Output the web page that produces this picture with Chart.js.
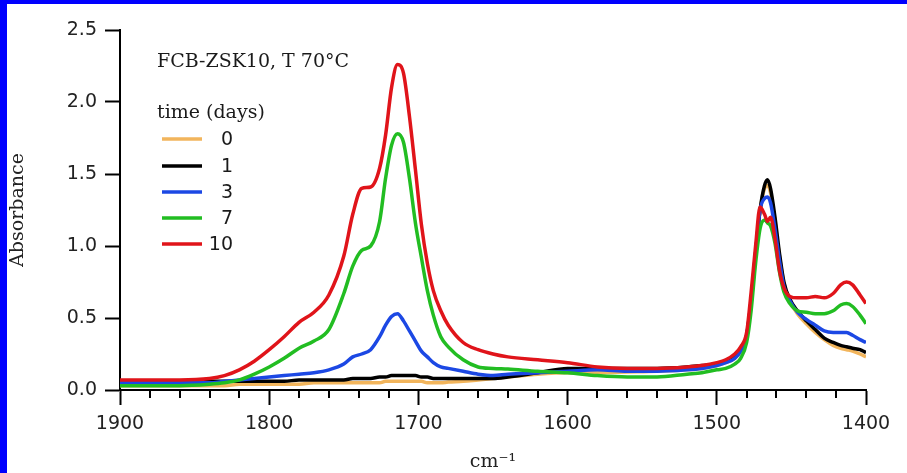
<!DOCTYPE html>
<html>
<head>
<meta charset="utf-8">
<title>FCB-ZSK10, T 70°C</title>
<script src="https://cdn.jsdelivr.net/npm/chart.js@4.4.1/dist/chart.umd.min.js"></script>
<style>
  html, body { margin: 0; padding: 0; background: #fff; overflow: hidden; }
  .frame {
    position: relative;
    width: 900px;
    height: 469px;
    border-left: 7px solid #0000fe;
    border-top: 4px solid #0000fe;
    background: #fff;
  }
</style>
</head>
<body>
<div class="frame"><canvas id="spectrum"></canvas></div>
<script>
// wavenumber grid (cm-1), shared by every spectrum
const wavenumbers = [
  1900, 1880, 1860, 1840, 1830, 1820, 1810, 1800, 1790, 1780,
  1770, 1760, 1750, 1744, 1738, 1732, 1726, 1722, 1718, 1714,
  1710, 1706, 1702, 1698, 1694, 1690, 1685, 1680, 1670, 1660,
  1650, 1640, 1620, 1600, 1580, 1560, 1540, 1520, 1510, 1500,
  1494, 1488, 1484, 1480, 1477, 1474, 1471, 1468, 1466, 1464,
  1461, 1458, 1455, 1451, 1446, 1440, 1434, 1428, 1422, 1417,
  1413, 1409, 1404, 1400
];

// absorbance after 0, 1, 3, 7 and 10 days
const day0 = [
  0.03, 0.03, 0.03, 0.03, 0.03, 0.04, 0.04, 0.04, 0.04, 0.04,
  0.05, 0.05, 0.05, 0.05, 0.05, 0.05, 0.05, 0.06, 0.06, 0.06,
  0.06, 0.06, 0.06, 0.06, 0.05, 0.05, 0.05, 0.055, 0.06, 0.07,
  0.08, 0.09, 0.11, 0.12, 0.12, 0.125, 0.13, 0.14, 0.15, 0.17,
  0.19, 0.22, 0.27, 0.37, 0.60, 0.93, 1.24, 1.40, 1.42, 1.37,
  1.17, 0.93, 0.74, 0.62, 0.53, 0.46, 0.40, 0.35, 0.31, 0.29,
  0.28, 0.27, 0.25, 0.23
];
const day1 = [
  0.06, 0.06, 0.06, 0.06, 0.06, 0.06, 0.06, 0.06, 0.06, 0.07,
  0.07, 0.07, 0.07, 0.08, 0.08, 0.08, 0.09, 0.09, 0.10, 0.10,
  0.10, 0.10, 0.10, 0.09, 0.09, 0.08, 0.08, 0.08, 0.08, 0.08,
  0.08, 0.09, 0.12, 0.15, 0.15, 0.15, 0.15, 0.16, 0.17, 0.18,
  0.20, 0.23, 0.28, 0.38, 0.62, 0.95, 1.25, 1.42, 1.46, 1.40,
  1.20, 0.95, 0.75, 0.63, 0.55, 0.48, 0.42, 0.36, 0.33, 0.31,
  0.30, 0.29, 0.28, 0.26
];
const day3 = [
  0.05, 0.05, 0.05, 0.05, 0.06, 0.07, 0.08, 0.09, 0.10, 0.11,
  0.12, 0.14, 0.18, 0.23, 0.25, 0.28, 0.37, 0.45, 0.51, 0.53,
  0.48, 0.41, 0.34, 0.27, 0.23, 0.19, 0.16, 0.15, 0.13, 0.11,
  0.10, 0.11, 0.12, 0.13, 0.14, 0.13, 0.13, 0.14, 0.15, 0.17,
  0.19, 0.22, 0.27, 0.38, 0.62, 0.95, 1.25, 1.33, 1.34, 1.30,
  1.12, 0.90, 0.72, 0.62, 0.54, 0.49, 0.45, 0.41, 0.40, 0.40,
  0.40, 0.38, 0.35, 0.33
];
const day7 = [
  0.03, 0.03, 0.03, 0.04, 0.05, 0.07, 0.11, 0.16, 0.22, 0.29,
  0.34, 0.42, 0.67, 0.86, 0.97, 1.00, 1.17, 1.47, 1.70, 1.78,
  1.72, 1.47, 1.16, 0.92, 0.69, 0.52, 0.37, 0.30, 0.21, 0.16,
  0.15, 0.145, 0.13, 0.12, 0.10, 0.09, 0.09, 0.11, 0.12, 0.14,
  0.15, 0.18, 0.22, 0.33, 0.55, 0.88, 1.12, 1.18, 1.16, 1.14,
  1.02, 0.82, 0.68, 0.60, 0.55, 0.54, 0.53, 0.53, 0.55, 0.59,
  0.60, 0.58, 0.52, 0.46
];
const day10 = [
  0.07, 0.07, 0.07, 0.08, 0.10, 0.14, 0.20, 0.28, 0.37, 0.47,
  0.54, 0.66, 0.93, 1.22, 1.40, 1.41, 1.54, 1.77, 2.10, 2.26,
  2.20, 1.90, 1.53, 1.15, 0.88, 0.69, 0.55, 0.45, 0.33, 0.28,
  0.25, 0.23, 0.21, 0.19, 0.16, 0.15, 0.15, 0.16, 0.17, 0.19,
  0.21, 0.25, 0.30, 0.40, 0.68, 1.00, 1.27, 1.22, 1.17, 1.20,
  1.05, 0.83, 0.71, 0.65, 0.64, 0.64, 0.65, 0.64, 0.67, 0.73,
  0.75, 0.73, 0.66, 0.60
];

const dayLabels = ['0', '1', '3', '7', '10'];
const series = [day0, day1, day3, day7, day10];
const lineColors = ['#f2b55c', '#000000', '#1c48e4', '#22bd22', '#e0141a'];

const xMajorTicks = [1900, 1800, 1700, 1600, 1500, 1400];
const xMinorStep = 20;
const yTickStep = 0.5;

const tickFont = { family: 'DejaVu Sans', size: 19 };
const textFont = { family: 'DejaVu Serif', size: 19 };

// small ticks between the labelled wavenumbers + legend and sample note
const decorations = {
  id: 'decorations',
  afterDraw(chart) {
    const ctx = chart.ctx;
    const x = chart.scales.x;
    const bottom = chart.chartArea.bottom;

    ctx.save();
    ctx.strokeStyle = '#000';
    ctx.lineWidth = 2;
    for (let v = x.min + xMinorStep; v < x.max; v += xMinorStep) {
      if (xMajorTicks.includes(v)) continue;
      const px = Math.round(x.getPixelForValue(v));
      ctx.beginPath();
      ctx.moveTo(px, bottom);
      ctx.lineTo(px, bottom + 8);
      ctx.stroke();
    }

    ctx.fillStyle = '#1a1a1a';
    ctx.textBaseline = 'middle';
    ctx.font = `${textFont.size}px "${textFont.family}"`;
    ctx.textAlign = 'left';
    ctx.fillText('FCB-ZSK10, T 70°C', 150, 58);
    ctx.fillText('time (days)', 150, 109);

    const rowY = [135, 162, 188, 214, 240];
    ctx.font = `${tickFont.size}px "${tickFont.family}"`;
    ctx.textAlign = 'right';
    chart.data.datasets.forEach((ds, i) => {
      ctx.strokeStyle = ds.borderColor;
      ctx.lineWidth = 3.5;
      ctx.beginPath();
      ctx.moveTo(155, rowY[i]);
      ctx.lineTo(195, rowY[i]);
      ctx.stroke();
      ctx.fillText(ds.label, 226, rowY[i] + 1);
    });
    ctx.restore();
  }
};

const ctx = document.getElementById('spectrum').getContext('2d');
new Chart(ctx, {
  type: 'line',
  data: {
    datasets: series.map((values, i) => ({
      label: dayLabels[i],
      data: wavenumbers.map((w, k) => ({ x: w, y: values[k] })),
      borderColor: lineColors[i],
      borderWidth: 3.5,
      pointRadius: 0,
      cubicInterpolationMode: 'monotone',
      fill: false,
      order: series.length - 1 - i
    }))
  },
  options: {
    responsive: true,
    maintainAspectRatio: false,
    animation: false,
    layout: {
      padding: { top: 26, right: 41, left: 0, bottom: 0 }
    },
    scales: {
      x: {
        type: 'linear',
        reverse: true,
        min: 1400,
        max: 1900,
        afterFit: s => { s.height = 83; },
        border: { color: '#000', width: 2 },
        grid: { drawOnChartArea: false, tickLength: 15, tickColor: '#000', tickWidth: 2 },
        ticks: {
          stepSize: 100,
          padding: 8,
          color: '#222',
          font: tickFont,
          maxRotation: 0,
          autoSkip: false,
          callback: v => String(v)
        },
        title: { display: true, text: 'cm⁻¹', padding: 0, color: '#222', font: textFont }
      },
      y: {
        min: 0,
        max: 2.5,
        afterFit: s => { s.width = 113; },
        border: { color: '#000', width: 2 },
        grid: { drawOnChartArea: false, tickLength: 15, tickColor: '#000', tickWidth: 2 },
        ticks: {
          stepSize: yTickStep,
          padding: 8,
          color: '#222',
          font: tickFont,
          callback: v => v.toFixed(1)
        },
        title: { display: true, text: 'Absorbance', padding: 0, color: '#222', font: textFont }
      }
    },
    plugins: {
      legend: { display: false },
      tooltip: { enabled: false }
    }
  },
  plugins: [decorations]
});
</script>
</body>
</html>
